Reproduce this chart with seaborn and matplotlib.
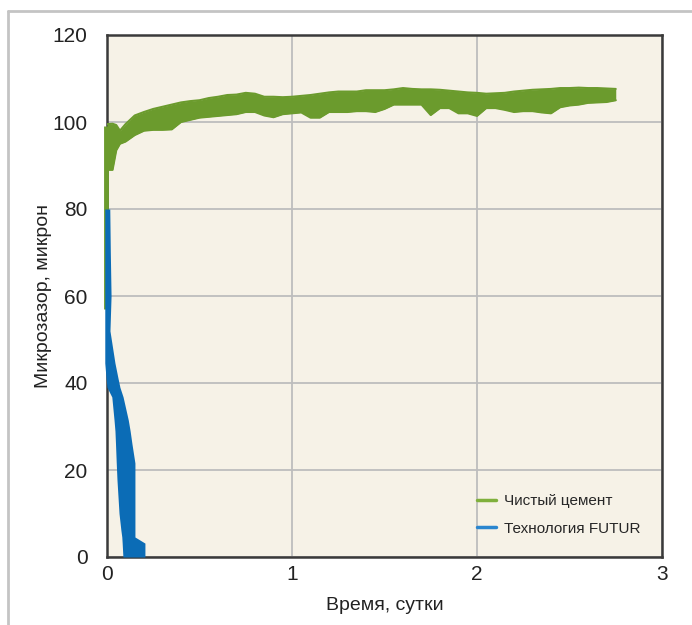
import numpy as np
import seaborn as sns
import matplotlib.pyplot as plt
from matplotlib.lines import Line2D

# Чистый цемент: upper / lower envelope of the noisy trace
cement_x = [0.00, 0.03, 0.05, 0.07, 0.10, 0.15, 0.20, 0.25, 0.30, 0.35,
            0.40, 0.45, 0.50, 0.55, 0.60, 0.65, 0.70, 0.75, 0.80, 0.85,
            0.90, 0.95, 1.00, 1.05, 1.10, 1.15, 1.20, 1.25, 1.30, 1.35,
            1.40, 1.45, 1.50, 1.55, 1.60, 1.65, 1.70, 1.75, 1.80, 1.85,
            1.90, 1.95, 2.00, 2.05, 2.10, 2.15, 2.20, 2.25, 2.30, 2.35,
            2.40, 2.45, 2.50, 2.55, 2.60, 2.65, 2.70, 2.75]
cement_hi = [99.5, 99.6, 99.3, 98.0, 99.5, 101.5, 102.3, 103.0, 103.5, 104.0,
             104.5, 104.8, 105.0, 105.5, 105.8, 106.2, 106.3, 106.7, 106.5, 105.8,
             105.8, 105.7, 105.8, 106.0, 106.2, 106.5, 106.8, 107.0, 107.0, 107.0,
             107.3, 107.3, 107.3, 107.5, 107.8, 107.6, 107.5, 107.5, 107.4, 107.2,
             107.0, 106.8, 106.7, 106.5, 106.6, 106.7, 107.0, 107.2, 107.4, 107.5,
             107.6, 107.8, 107.8, 107.9, 107.8, 107.8, 107.7, 107.6]
cement_lo = [89.0, 89.0, 93.5, 95.0, 95.5, 97.0, 98.0, 98.2, 98.2, 98.3,
             100.0, 100.5, 101.0, 101.2, 101.4, 101.6, 101.8, 102.3, 102.3, 101.5,
             101.1, 101.8, 102.0, 102.2, 101.0, 101.0, 102.3, 102.3, 102.3, 102.5,
             102.5, 102.3, 103.0, 104.0, 104.0, 104.0, 104.0, 101.6, 103.2, 103.2,
             102.0, 102.0, 101.4, 103.2, 103.2, 102.8, 102.3, 102.5, 102.5, 102.2,
             102.0, 103.4, 103.8, 104.0, 104.4, 104.5, 104.6, 105.0]
cement_start = [57, 99]  # vertical jump at t = 0

# Технология FUTUR: left / right envelope against microgap
futur_y = [80, 70, 60, 52, 44.6, 41, 39, 36.8, 31.5, 29, 26, 21.6, 17.7, 10, 6.2, 4.6, 3.2, 0]
futur_left = [-0.012, -0.012, -0.012, -0.012, -0.012, -0.005, 0.0, 0.026, 0.038, 0.043,
              0.046, 0.05, 0.054, 0.065, 0.075, 0.08, 0.082, 0.086]
futur_right = [0.015, 0.018, 0.022, 0.016, 0.043, 0.06, 0.07, 0.087, 0.115, 0.125,
               0.135, 0.151, 0.151, 0.151, 0.151, 0.151, 0.205, 0.205]

x_ticks = [0, 1, 2, 3]
y_ticks = [0, 20, 40, 60, 80, 100, 120]

green = "#6b9b2d"
blue = "#0b6cb6"

sns.set_theme(style="whitegrid", rc={
    "axes.facecolor": "#f6f2e7",
    "grid.color": "#bdbdbd",
    "grid.linewidth": 1.3,
    "axes.edgecolor": "#3a3a3a",
    "axes.linewidth": 1.8,
})
plt.rcParams["font.family"] = ["Liberation Sans Narrow", "Liberation Sans", "DejaVu Sans"]

fig = plt.figure(figsize=(6.92, 6.25), dpi=100)
ax = fig.add_axes([107 / 692, 1 - 557 / 625, 555 / 692, 522 / 625])

# green band
ax.fill_between(cement_x, cement_lo, cement_hi, color=green, lw=0, zorder=3)
sns.lineplot(x=cement_x, y=cement_hi, ax=ax, color=green, lw=1.5, zorder=3)
sns.lineplot(x=cement_x, y=cement_lo, ax=ax, color=green, lw=1.5, zorder=3)
ax.plot([-0.003, -0.003], cement_start, color=green, lw=3.5, zorder=3, clip_on=False,
        solid_capstyle="butt")

# blue band
ax.fill_betweenx(futur_y, futur_left, futur_right, color=blue, lw=0, zorder=4, clip_on=False)

ax.set_xlim(0, 3)
ax.set_ylim(0, 120)
ax.set_xticks(x_ticks)
ax.set_yticks(y_ticks)
ax.tick_params(axis="both", length=0, labelsize=15, colors="#222222")
ax.tick_params(axis="y", pad=14)
ax.tick_params(axis="x", pad=6)
for s in ax.spines.values():
    s.set_visible(True)
    s.set_zorder(2.5)

ax.set_xlabel("Время, сутки", fontsize=14, color="#222222", labelpad=9)
ax.set_ylabel("Микрозазор, микрон", fontsize=14, color="#222222", labelpad=0)

handles = [Line2D([], [], color="#7fb03c", lw=2.5),
           Line2D([], [], color="#2a86cf", lw=2.5)]
ax.legend(handles, ["Чистый цемент", "Технология FUTUR"], loc="lower right",
          frameon=False, fontsize=11, handlelength=1.3, handletextpad=0.5,
          labelspacing=0.9, borderaxespad=1.0)

# light frame around the figure (left and top only)
fig.add_artist(Line2D([8 / 692, 8 / 692], [0, 1 - 11 / 625], transform=fig.transFigure,
                      color="#c4c4c4", lw=2))
fig.add_artist(Line2D([8 / 692, 1], [1 - 11 / 625, 1 - 11 / 625], transform=fig.transFigure,
                      color="#c4c4c4", lw=2))

fig.savefig("out.png", dpi=100)
